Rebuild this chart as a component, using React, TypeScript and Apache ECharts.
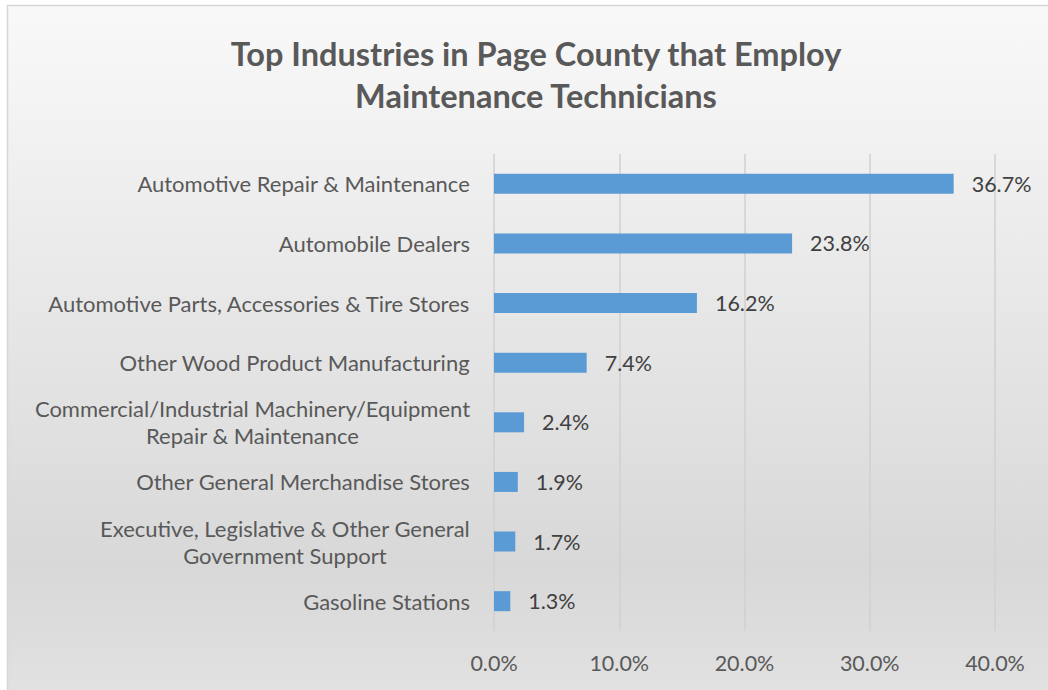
import React, { useEffect, useRef } from "react";
import * as echarts from "echarts";

const categories = [
  "Automotive Repair & Maintenance",
  "Automobile Dealers",
  "Automotive Parts, Accessories & Tire Stores",
  "Other Wood Product Manufacturing",
  "Commercial/Industrial Machinery/Equipment\nRepair & Maintenance",
  "Other General Merchandise Stores",
  "Executive, Legislative & Other General\nGovernment Support",
  "Gasoline Stations",
];
const values = [36.7, 23.8, 16.2, 7.4, 2.4, 1.9, 1.7, 1.3];
const titleLines = ["Top Industries in Page County that Employ", "Maintenance Technicians"];
const FONT = "Lato, 'Open Sans', sans-serif";

export default function App() {
  const ref = useRef<HTMLDivElement>(null);
  useEffect(() => {
    const chart = echarts.init(ref.current!, null, { renderer: "svg" });
    chart.setOption({
      animation: false,
      backgroundColor: "#ffffff",
      textStyle: { fontFamily: FONT },
      graphic: [
        {
          type: "rect",
          z: -10,
          silent: true,
          shape: { x: 7.5, y: 5.5, width: 1050, height: 700 },
          style: {
            fill: new echarts.graphic.LinearGradient(0, 0, 0, 1, [
              { offset: 0, color: "#f9f9f9" },
              { offset: 0.8, color: "#d8d8d8" },
              { offset: 1, color: "#e2e2e2" },
            ]),
            stroke: "#d6d6d6",
            lineWidth: 1.5,
          },
        },
      ],
      title: {
        text: titleLines.join("\n"),
        left: 531,
        top: 27,
        textAlign: "center",
        textStyle: {
          fontFamily: FONT,
          fontSize: 32.5,
          fontWeight: "bold",
          color: "#595959",
          lineHeight: 42,
        },
      },
      grid: { left: 494, right: 53, top: 154, bottom: 59, containLabel: false },
      xAxis: {
        type: "value",
        min: 0,
        max: 40,
        interval: 10,
        axisLine: { show: false },
        axisTick: { show: false },
        splitLine: { show: true, lineStyle: { color: "#d0d0d0", width: 1.5 } },
        axisLabel: {
          formatter: (v: number) => v.toFixed(1) + "%",
          fontSize: 21.5,
          color: "#595959",
          margin: 21,
          fontFamily: FONT,
        },
      },
      yAxis: {
        type: "category",
        inverse: true,
        data: categories,
        axisLine: { show: false },
        axisTick: { show: false },
        axisLabel: {
          margin: 24,
          fontSize: 22,
          color: "#595959",
          fontFamily: FONT,
          lineHeight: 27,
          formatter: (v: string) => "{c|" + v.split("\n").join("}\n{c|") + "}",
          rich: {
            c: { align: "center", fontSize: 22, color: "#595959", fontFamily: FONT, lineHeight: 27 },
          },
        },
      },
      series: [
        {
          type: "bar",
          data: values,
          barWidth: 20,
          itemStyle: { color: "#5b9bd5" },
          label: {
            show: true,
            position: "right",
            distance: 18,
            formatter: (p: any) => p.value.toFixed(1) + "%",
            fontSize: 21.5,
            color: "#404040",
            fontFamily: FONT,
          },
        },
      ],
    });
    return () => chart.dispose();
  }, []);
  return (
    <div
      ref={ref}
      style={{ position: "absolute", left: 0, top: 0, width: 1048, height: 690 }}
    />
  );
}
